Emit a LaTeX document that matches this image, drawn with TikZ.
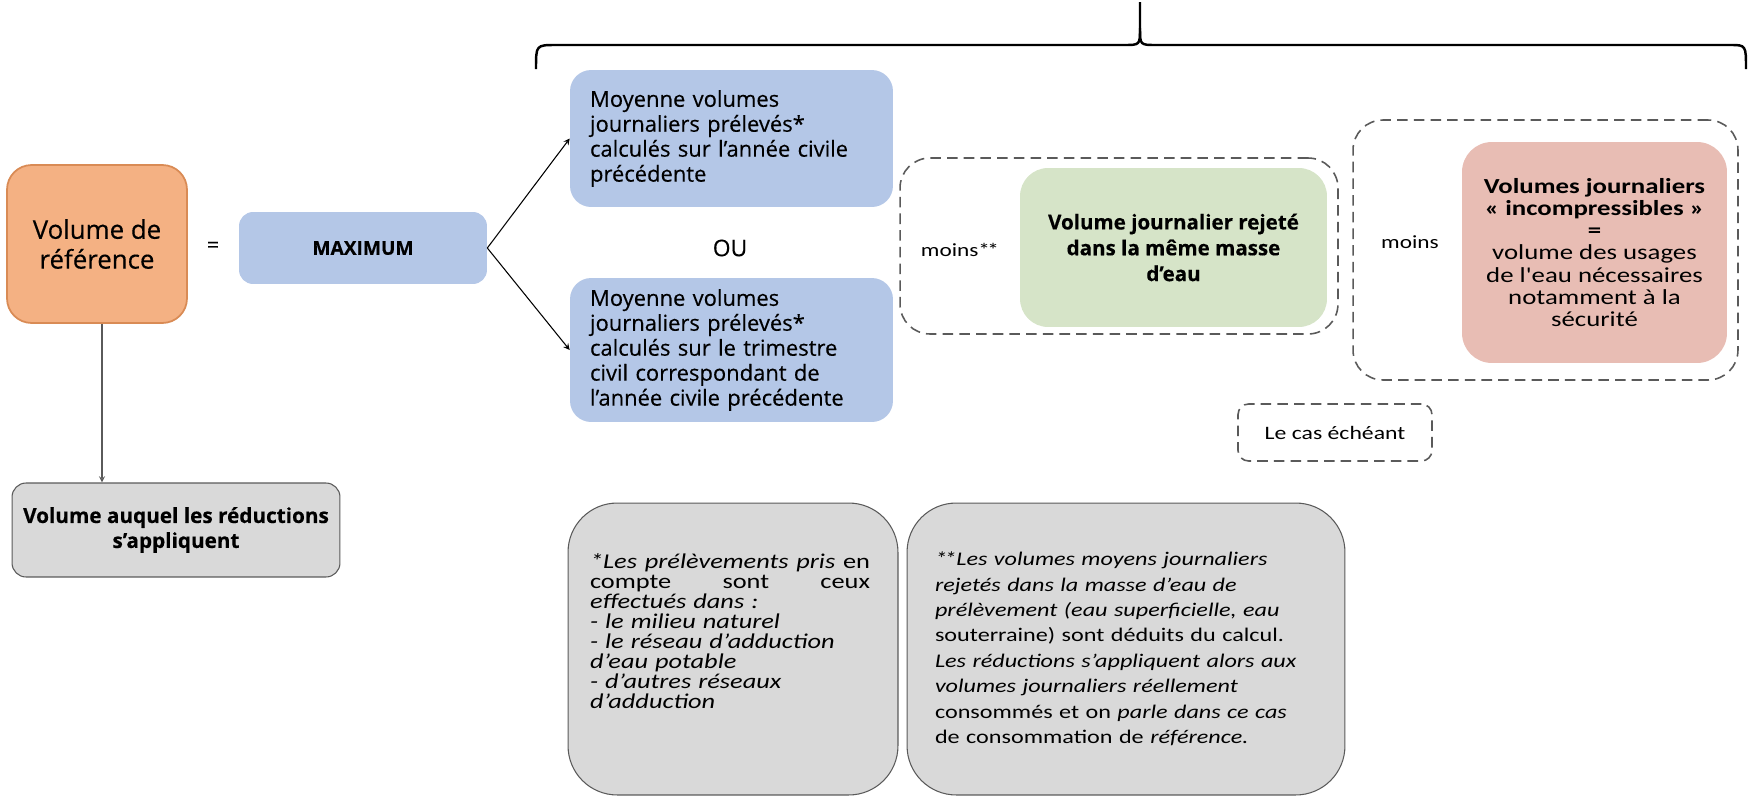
\documentclass[tikz,border=0pt]{standalone}
\usepackage{fontspec}
\setmainfont{Open Sans}[FakeBold=0.35]
\newfontfamily\calib[FakeStretch=1.25]{Carlito}
\definecolor{orange1}{HTML}{F4B183}
\definecolor{orange2}{HTML}{D98B55}
\definecolor{bleu}{HTML}{B4C7E7}
\definecolor{vert}{HTML}{D6E4C8}
\definecolor{rose}{HTML}{E8BDB4}
\definecolor{grisclair}{HTML}{D9D9D9}
\definecolor{gris}{HTML}{5A5A5A}
\begin{document}
\begin{tikzpicture}[x=.02cm, y=-.02cm, line join=round, >=stealth,
    moybox/.style={fill=bleu, rounded corners=12pt, text width=5.66cm, align=left, inner xsep=.4cm, inner ysep=0pt, font=\fontsize{12.5}{14.2}\selectfont},
    zone/.style={draw=gris, line width=.9pt, dash pattern=on 6pt off 3.5pt, rounded corners=17pt},
    notebox/.style={fill=grisclair, draw=gris, line width=.6pt, rounded corners=28pt, minimum height=5.84cm},
    moins/.style={font=\calib\fontsize{10.6}{12}\selectfont}]
\useasboundingbox (0,0) rectangle (1752,798);
% accolade
\draw[line width=1.4pt] (536,69) .. controls (536,45) .. (556,45) -- (1124,45) .. controls (1140,45) .. (1140,28) -- (1140,2);
\draw[line width=1.4pt] (1140,28) .. controls (1140,45) .. (1156,45) -- (1730,45) .. controls (1746,45) .. (1746,69);
% colonne de gauche
\node[fill=orange1, draw=orange2, line width=1pt, rounded corners=14pt, minimum width=3.6cm, minimum height=3.16cm, align=center, font=\fontsize{14.7}{17}\selectfont] (ref) at (97,244) {Volume de\\référence};
\node[font=\fontsize{12}{14}\selectfont] (egal) at (213,247) {=};
\node[fill=bleu, rounded corners=8pt, minimum width=4.96cm, minimum height=1.44cm, font=\bfseries\fontsize{10.9}{13}\selectfont] (max) at (363,248) {MAXIMUM};
\node[fill=grisclair, draw=gris, line width=.6pt, rounded corners=8pt, minimum width=6.56cm, minimum height=1.88cm, align=center, font=\bfseries\fontsize{11.8}{14.2}\selectfont] (reduc) at (176,530) {Volume auquel les réductions\\s’appliquent};
\draw[->, gris, line width=.6pt] ([xshift=.1cm]ref.south) -- ([xshift=.1cm]ref.south |- reduc.north);
% moyennes
\node[moybox, minimum height=2.74cm] (moy1) at (731.5,138.5) {Moyenne volumes\\journaliers prélevés*\\calculés sur l’année civile\\précédente};
\node[font=\fontsize{13}{15}\selectfont] (ou) at (730,248) {OU};
\node[moybox, minimum height=2.88cm] (moy2) at (731.5,350) {Moyenne volumes\\journaliers prélevés*\\calculés sur le trimestre\\civil correspondant de\\l’année civile précédente};
\draw[->, line width=.6pt] (max.east) -- (moy1.west);
\draw[->, line width=.6pt] (max.east) -- (moy2.west);
% volumes a deduire
\node[zone, minimum width=8.76cm, minimum height=3.52cm] (zone1) at (1119,246) {};
\node[moins] (moins1) at (960,250) {moins*\kern-1.5pt*};
\node[fill=vert, rounded corners=16pt, minimum width=6.14cm, minimum height=3.18cm, align=center, font=\bfseries\fontsize{11.7}{14.7}\selectfont] (rejet) at (1173.5,247.5) {Volume journalier rejeté\\dans la même masse\\d’eau};
\node[zone, minimum width=7.7cm, minimum height=5.2cm] (zone2) at (1545.5,250) {};
\node[moins] (moins2) at (1410,242) {moins};
\node[fill=rose, rounded corners=17pt, minimum width=5.3cm, minimum height=4.42cm, align=center, font=\calib\fontsize{12.2}{12.6}\selectfont] (secu) at (1594.5,252.5) {\textbf{Volumes journaliers}\\\textbf{« incompressibles »}\\\textbf{=}\\volume des usages\\de l'eau nécessaires\\notamment à la\\sécurité};
\node[zone, rounded corners=6pt, minimum width=3.88cm, minimum height=1.14cm, font=\calib\fontsize{10.8}{12}\selectfont] (cas) at (1335,432.5) {Le cas échéant};
% notes
\node[notebox, minimum width=6.6cm] (note1) at (733,649) {};
\node[text width=5.6cm, align=left, inner sep=0pt, font=\calib\itshape\fontsize{12}{11.4}\selectfont] (prel) at (730,631) {*Les\hfill prélèvements\hfill pris\hfill \textup{en}\\
\textup{compte\hfill sont\hfill ceux}\\
effectués dans :\\
- le milieu naturel\\
- le réseau d’adduction\\
d’eau potable\\
- d’autres réseaux\\
d’adduction};
\node[notebox, minimum width=8.76cm, text width=7.64cm, inner xsep=.56cm, align=left, font=\calib\itshape\fontsize{11}{14.5}\selectfont] (note2) at (1126,649) {*\kern-1.5pt*Les volumes moyens journaliers\\
rejetés dans la masse d’eau de\\
prélèvement (eau superficielle, eau\\
\textup{souterraine) sont déduits du calcul.}\\
Les réductions s’appliquent alors aux\\
volumes journaliers réellement\\
\textup{consommés et on} parle dans ce cas\\
\textup{de consommation de} référence.};
\end{tikzpicture}
\end{document}
